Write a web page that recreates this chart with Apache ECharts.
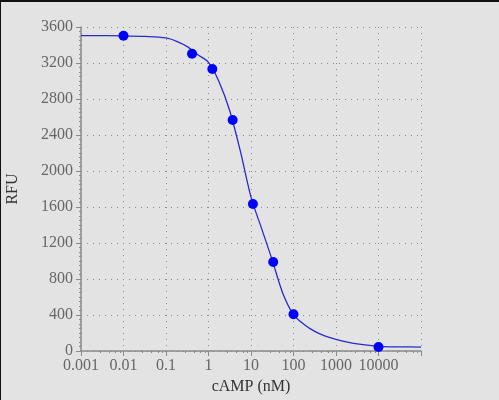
<!DOCTYPE html>
<html>
<head>
<meta charset="utf-8">
<script src="https://cdn.jsdelivr.net/npm/echarts@6/dist/echarts.min.js"></script>
<style>
  html, body { margin: 0; padding: 0; background: #e3e3e3; }
  #chart { width: 499px; height: 400px; }
  #frame { position: absolute; left: 0; top: 0; width: 499px; height: 400px;
           box-sizing: border-box; border-top: 2px solid #111; border-left: 1px solid #111;
           pointer-events: none; }
</style>
</head>
<body>
<div id="chart"></div>
<div id="frame"></div>
<script>
// measured points (cAMP nM, RFU)
var doseValues = [0.01, 0.41, 1.23, 3.7, 11.1, 33.3, 100, 10000];
var rfuValues = [3503, 3303, 3133, 2567, 1633, 989, 408, 44];

// fitted curve at quarter/half decades
var curveX = [0.001, 0.00316, 0.01, 0.0316, 0.1, 0.178, 0.316, 0.562, 1, 1.78, 3.16, 5.62,
              10, 17.8, 31.6, 56.2, 100, 178, 316, 562, 1000, 3162, 10000, 31623, 100000];
var curveY = [3505, 3504, 3502, 3495, 3478, 3440, 3382, 3292, 3207, 2990, 2670, 2220,
              1710, 1360, 1010, 640, 405, 295, 218, 165, 130, 78, 52, 46, 44];

var xTickLabels = ['0.001', '0.01', '0.1', '1', '10', '100', '1000', '10000', ''];

var serif = '"Liberation Serif", "DejaVu Serif", serif';

function zip(a, b) {
  return a.map(function(v, i) { return [v, b[i]]; });
}

var chart = echarts.init(document.getElementById('chart'));
chart.setOption({
  backgroundColor: '#e3e3e3',
  animation: false,
  grid: { left: 81, right: 78, top: 27, bottom: 49, containLabel: false, outerBoundsMode: 'none' },
  xAxis: {
    type: 'log',
    logBase: 10,
    min: 0.001,
    max: 100000,
    name: 'cAMP (nM)',
    nameLocation: 'middle',
    nameGap: 25,
    nameTextStyle: { fontFamily: serif, fontSize: 16, color: '#333' },
    axisLine: { lineStyle: { color: '#8a8a8a', width: 1.5 } },
    axisTick: { length: 5, lineStyle: { color: '#8a8a8a' } },
    minorTick: { show: true, splitNumber: 5, length: 2, lineStyle: { color: '#8a8a8a' } },
    axisLabel: {
      fontFamily: serif, fontSize: 16, color: '#666', margin: 7,
      formatter: function(v) {
        var i = Math.round(Math.log10(v)) + 3;
        return xTickLabels[i] || '';
      }
    },
    splitLine: { show: true, lineStyle: { color: '#8a8a8a', type: [1, 5], width: 1 } }
  },
  yAxis: {
    type: 'value',
    min: 0,
    max: 3600,
    interval: 400,
    name: 'RFU',
    nameLocation: 'middle',
    nameGap: 60,
    nameTextStyle: { fontFamily: serif, fontSize: 16, color: '#333' },
    axisLine: { show: true, lineStyle: { color: '#8a8a8a', width: 1.5 } },
    axisTick: { show: true, length: 5, lineStyle: { color: '#8a8a8a' } },
    minorTick: { show: true, splitNumber: 8, length: 2, lineStyle: { color: '#8a8a8a' } },
    axisLabel: {
      fontFamily: serif, fontSize: 16, color: '#666', margin: 8,
      formatter: function(v) { return String(v); }
    },
    splitLine: { show: true, lineStyle: { color: '#8a8a8a', type: [1, 5], width: 1 } }
  },
  series: [
    {
      name: 'fit',
      type: 'line',
      data: zip(curveX, curveY),
      smooth: 0.3,
      showSymbol: false,
      lineStyle: { color: '#2a2acc', width: 1.3 },
      z: 2
    },
    {
      name: 'data',
      type: 'scatter',
      data: zip(doseValues, rfuValues),
      symbolSize: 10,
      itemStyle: { color: '#0000ff', opacity: 1 },
      z: 3
    }
  ]
});
</script>
</body>
</html>
